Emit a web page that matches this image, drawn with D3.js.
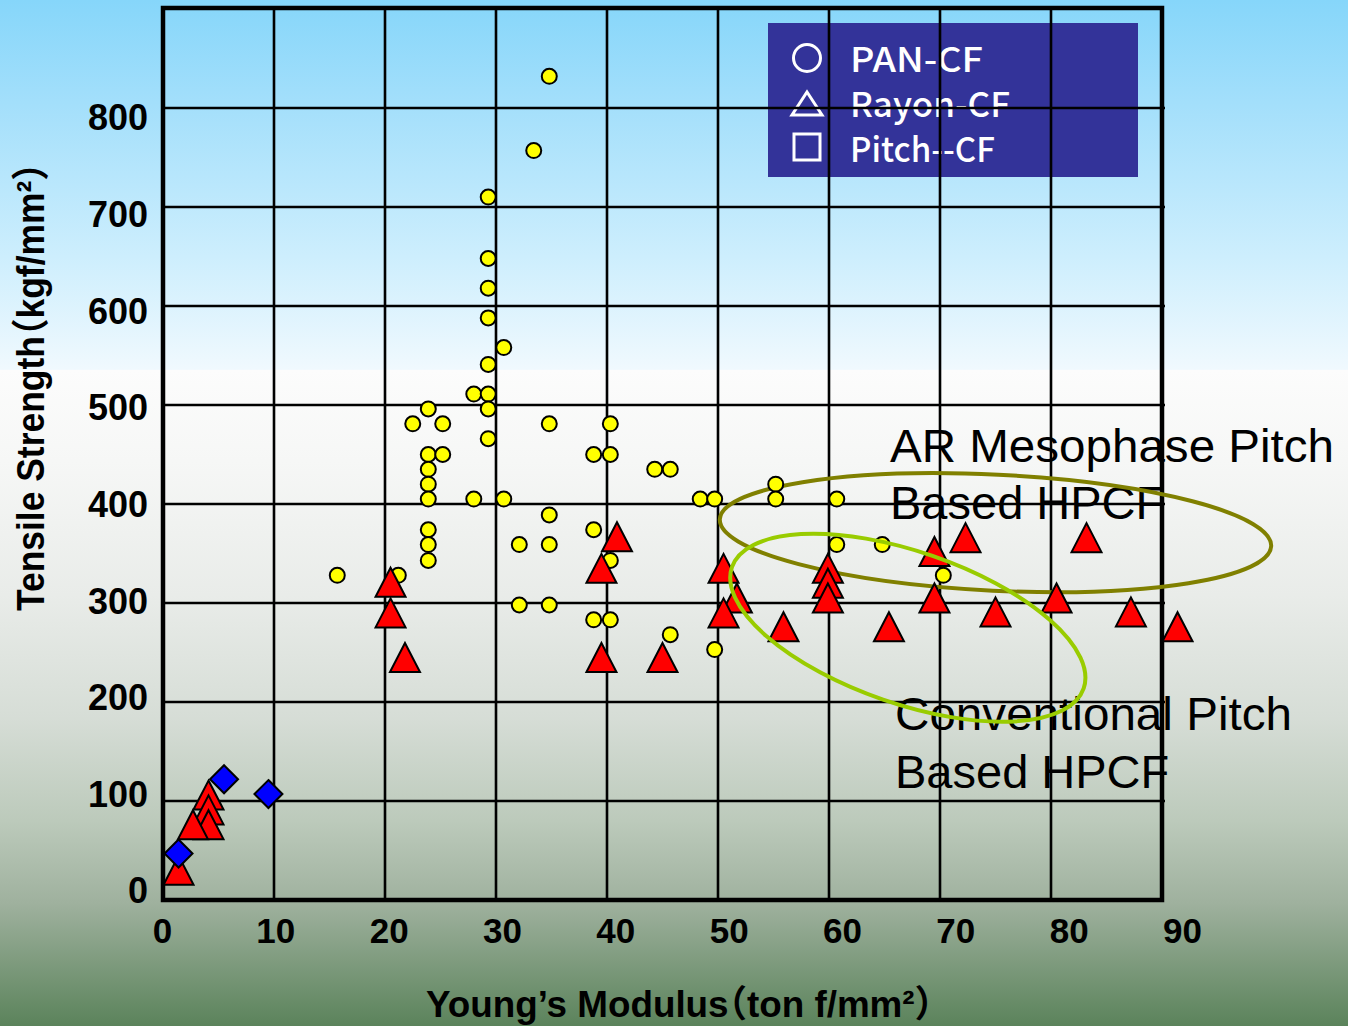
<!DOCTYPE html>
<html>
<head>
<meta charset="utf-8">
<script src="https://cdn.jsdelivr.net/npm/d3@7"></script>
<style>
  html, body { margin: 0; padding: 0; background: #fff; }
  svg { display: block; }
  .halt { font-feature-settings: "halt" 1; }
</style>
</head>
<body>
<svg id="chart" width="1348" height="1026"></svg>
<script>
// ---------------- data ----------------
const xTicks = [0, 10, 20, 30, 40, 50, 60, 70, 80, 90];
const yTicks = [0, 100, 200, 300, 400, 500, 600, 700, 800];

const legendLabels = ["PAN-CF", "Rayon-CF", "Pitch--CF"];

// PAN-CF (yellow circles): [Young's modulus, tensile strength]
const panCF = [
  [34.8, 832], [33.4, 757], [29.3, 710], [29.3, 648], [29.3, 618], [29.3, 588],
  [30.7, 558], [29.3, 541], [28.0, 511], [29.3, 511], [29.3, 496], [29.3, 466],
  [23.9, 496], [22.5, 481], [25.2, 481], [23.9, 450], [25.2, 450], [23.9, 435],
  [23.9, 420], [23.9, 405], [28.0, 405], [30.7, 405], [34.8, 481], [34.8, 389],
  [32.1, 359], [34.8, 359], [23.9, 374], [23.9, 359], [23.9, 343], [15.7, 328],
  [21.2, 328], [32.1, 298], [34.8, 298], [38.8, 450], [40.3, 481], [40.3, 450],
  [38.8, 374], [40.3, 343], [38.8, 283], [40.3, 283], [44.3, 435], [45.7, 435],
  [45.7, 268], [48.4, 405], [49.7, 405], [49.7, 253], [55.2, 420], [55.2, 405],
  [60.7, 405], [60.7, 359], [64.8, 359], [70.3, 328]
];

// Rayon-CF (red triangles)
const rayonCF = [
  [72.3, 366], [83.2, 366], [69.5, 352], [50.5, 335], [59.9, 335], [59.9, 320],
  [59.9, 305], [51.7, 305], [50.5, 290], [69.5, 305], [80.5, 305], [55.9, 276],
  [65.4, 276], [75.0, 291], [87.2, 291], [91.4, 276], [40.9, 367], [39.5, 335],
  [20.5, 321], [20.5, 290], [21.8, 245], [39.5, 245], [45.0, 245],
  [4.1, 106], [4.1, 91], [4.1, 76], [2.7, 76], [1.4, 30]
];

// Pitch-CF (blue diamonds)
const pitchCF = [[5.5, 122], [9.5, 107], [1.4, 47]];

const annotationLines = [
  ["AR Mesophase Pitch", "Based HPCF"],
  ["Conventional Pitch", "Based HPCF"]
];

// ---------------- drawing ----------------
const svg = d3.select("#chart");
const W = 1348, H = 1026;

const x = d3.scaleLinear().domain([0, 90]).range([163, 1162]);
const y = d3.scaleLinear().domain([0, 900]).range([900, 9]);
// tick label placement scales (labels in the original drift slightly from gridlines)
const xl = d3.scaleLinear().domain([0, 90]).range([162, 1182]);
const yl = d3.scaleLinear().domain([0, 800]).range([890, 117]);

// background gradient
const defs = svg.append("defs");
const grad = defs.append("linearGradient").attr("id", "bg")
  .attr("x1", 0).attr("y1", 0).attr("x2", 0).attr("y2", 1);
[
  [0, "#86d6fa"], [0.1, "#a3dffb"], [0.25, "#cdeefd"], [0.36, "#f0f9fe"],
  [0.361, "#fcfcfc"], [0.45, "#f6f7f6"], [0.58, "#e9ece9"], [0.7, "#d6ddd6"],
  [0.8, "#bccabb"], [0.88, "#9fb19e"], [1, "#5b835b"]
].forEach(([o, c]) => grad.append("stop").attr("offset", o).attr("stop-color", c));
svg.append("rect").attr("width", W).attr("height", H).attr("fill", "url(#bg)");

// legend box
const lg = svg.append("g");
lg.append("rect").attr("x", 768).attr("y", 23).attr("width", 370).attr("height", 154)
  .attr("fill", "#333399");
const legendWidths = [133, 160, 145];
const legendBase = [72, 117, 162];
legendLabels.forEach((t, i) => {
  lg.append("text").attr("x", 850).attr("y", legendBase[i])
    .attr("fill", "#fff")
    .attr("font-family", "'Noto Sans CJK JP', 'Noto Sans', sans-serif")
    .attr("font-size", 34).attr("font-weight", 500)
    .attr("textLength", legendWidths[i]).attr("lengthAdjust", "spacingAndGlyphs")
    .text(t);
});
const symStroke = { fill: "none", stroke: "#fff", "stroke-width": 3 };
const c0 = lg.append("circle").attr("cx", 807).attr("cy", 58).attr("r", 13.5);
const t0 = lg.append("path").attr("d", "M807,92 L822,115 L792,115 Z");
const s0 = lg.append("rect").attr("x", 794).attr("y", 134).attr("width", 26).attr("height", 26);
[c0, t0, s0].forEach(s => Object.entries(symStroke).forEach(([k, v]) => s.attr(k, v)));

// annotation text
const ann = svg.append("g")
  .attr("font-family", "'Liberation Sans', Arial, sans-serif")
  .attr("font-size", 47).attr("fill", "#000");
ann.append("text").attr("x", 890).attr("y", 462)
  .attr("textLength", 444).attr("lengthAdjust", "spacingAndGlyphs")
  .text(annotationLines[0][0]);
ann.append("text").attr("x", 890).attr("y", 519).text(annotationLines[0][1]);
ann.append("text").attr("x", 895).attr("y", 730)
  .attr("textLength", 397).attr("lengthAdjust", "spacingAndGlyphs")
  .text(annotationLines[1][0]);
ann.append("text").attr("x", 895).attr("y", 788).text(annotationLines[1][1]);

// gridlines
const grid = svg.append("g").attr("stroke", "#000").attr("stroke-width", 2.6);
grid.selectAll("line.v").data(xTicks.slice(1, -1)).join("line")
  .attr("x1", d => x(d)).attr("x2", d => x(d)).attr("y1", y(900)).attr("y2", y(0));
grid.selectAll("line.h").data(yTicks.slice(1)).join("line")
  .attr("y1", d => y(d)).attr("y2", d => y(d)).attr("x1", x(0)).attr("x2", x(90) + 3);

// frame
svg.append("rect").attr("x", x(0)).attr("y", y(900) - 1)
  .attr("width", x(90) - x(0)).attr("height", y(0) - y(900) + 1)
  .attr("fill", "none").attr("stroke", "#000").attr("stroke-width", 4.5);

// tick labels via d3 axes
const xAxis = svg.append("g").attr("transform", "translate(0,918)")
  .call(d3.axisBottom(xl).tickValues(xTicks).tickSize(0).tickPadding(0));
xAxis.select(".domain").remove();
xAxis.selectAll("text")
  .attr("font-family", "'Liberation Sans', Arial, sans-serif")
  .attr("font-weight", "bold").attr("font-size", 35).attr("fill", "#000")
  .attr("dy", "0.72em");

const yAxis = svg.append("g").attr("transform", "translate(148,0)")
  .call(d3.axisLeft(yl).tickValues(yTicks).tickSize(0).tickPadding(0));
yAxis.select(".domain").remove();
yAxis.selectAll("text")
  .attr("font-family", "'Liberation Sans', Arial, sans-serif")
  .attr("font-weight", "bold").attr("font-size", 36).attr("fill", "#000")
  .attr("dy", "0.36em");

// axis titles
svg.append("text").attr("class", "halt").attr("x", 426).attr("y", 1017)
  .attr("font-family", "'Liberation Sans', Arial, 'Noto Sans CJK JP', sans-serif")
  .attr("font-weight", "bold").attr("font-size", 37)
  .attr("textLength", 507).attr("lengthAdjust", "spacingAndGlyphs")
  .text("Young’s Modulus（ton f/mm²）");
svg.append("text").attr("class", "halt").attr("transform", "translate(44,611) rotate(-90)")
  .attr("font-family", "'Liberation Sans', Arial, 'Noto Sans CJK JP', sans-serif")
  .attr("font-weight", "bold").attr("font-size", 38)
  .attr("textLength", 448).attr("lengthAdjust", "spacingAndGlyphs")
  .text("Tensile Strength（kgf/mm²）");

// olive ellipse (AR mesophase pitch region) - behind markers
const olive = { cx: 75.0, cy: 371, rx: 276, ry: 58, rot: 2.8 };
svg.append("ellipse")
  .attr("transform", `translate(${x(olive.cx)},${y(olive.cy)}) rotate(${olive.rot})`)
  .attr("rx", olive.rx).attr("ry", olive.ry)
  .attr("fill", "none").attr("stroke", "#808000").attr("stroke-width", 4);

// markers
const marks = svg.append("g").attr("stroke", "#000").attr("stroke-width", 2);
marks.selectAll("circle.pan").data(panCF).join("circle")
  .attr("cx", d => x(d[0])).attr("cy", d => y(d[1])).attr("r", 7.5)
  .attr("fill", "#ffff00");
const tri = "M0,-14.5 L15,14.5 L-15,14.5 Z";
marks.selectAll("path.rayon").data(rayonCF).join("path")
  .attr("d", tri)
  .attr("transform", d => `translate(${x(d[0])},${y(d[1])})`)
  .attr("fill", "#ff0000");
const dia = "M0,-14 L14,0 L0,14 L-14,0 Z";
marks.selectAll("path.pitch").data(pitchCF).join("path")
  .attr("d", dia)
  .attr("transform", d => `translate(${x(d[0])},${y(d[1])})`)
  .attr("fill", "#0000ff");

// green ellipse (conventional pitch region)
const green = { cx: 67.1, cy: 275, rx: 186, ry: 76, rot: 19 };
svg.append("ellipse")
  .attr("transform", `translate(${x(green.cx)},${y(green.cy)}) rotate(${green.rot})`)
  .attr("rx", green.rx).attr("ry", green.ry)
  .attr("fill", "none").attr("stroke", "#99cc00").attr("stroke-width", 4);
</script>
</body>
</html>
